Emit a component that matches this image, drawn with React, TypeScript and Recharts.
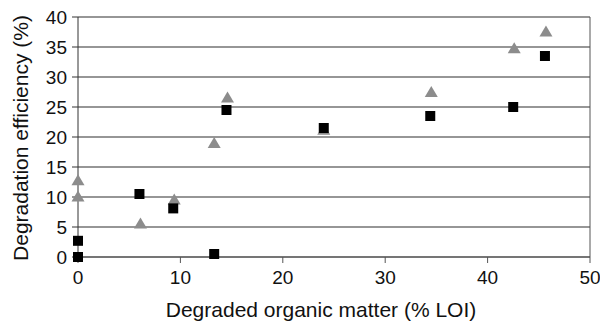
import { ScatterChart, Scatter, XAxis, YAxis, CartesianGrid, ReferenceLine, Label } from "recharts";

// black squares
const squareX = [0, 0, 6.0, 9.3, 13.3, 14.5, 24.0, 34.4, 42.5, 45.6];
const squareY = [0, 2.7, 10.5, 8.1, 0.5, 24.5, 21.5, 23.5, 25.0, 33.5];

// grey triangles
const triX = [0, 0, 6.1, 9.4, 13.3, 14.6, 24.0, 34.5, 42.6, 45.7];
const triY = [12.8, 10.1, 5.6, 9.6, 19.0, 26.6, 21.2, 27.5, 34.8, 37.6];

const xTicks = [0, 10, 20, 30, 40, 50];
const yTicks = [0, 5, 10, 15, 20, 25, 30, 35, 40];

const squares = squareX.map((x, i) => ({ x, y: squareY[i] }));
const triangles = triX.map((x, i) => ({ x, y: triY[i] }));

const FONT = '"Liberation Sans", Arial, sans-serif';

// eslint-disable-next-line @typescript-eslint/no-explicit-any
function SquareMark({ cx, cy }: any) {
  return <rect x={cx - 5} y={cy - 5} width={10} height={10} fill="#000" />;
}

// eslint-disable-next-line @typescript-eslint/no-explicit-any
function TriangleMark({ cx, cy }: any) {
  return (
    <polygon
      points={`${cx},${cy - 6} ${cx - 6.5},${cy + 5} ${cx + 6.5},${cy + 5}`}
      fill="#8c8c8c"
    />
  );
}

export default function App() {
  return (
    <div style={{ position: "fixed", left: 0, top: 0, width: 600, height: 321, background: "#fff" }}>
      <ScatterChart width={600} height={321} margin={{ top: 17, right: 10, left: 0, bottom: 0 }}>
        <CartesianGrid horizontal vertical={false} stroke="#2e2e2e" strokeOpacity={1} strokeWidth={1.2} />
        <XAxis
          type="number"
          dataKey="x"
          domain={[0, 50]}
          ticks={xTicks}
          height={64}
          tickSize={6}
          tickMargin={8}
          axisLine={{ stroke: "#555" }}
          tickLine={{ stroke: "#555" }}
          tick={{ fontSize: 19, fill: "#111", fontFamily: FONT }}
        >
          <Label
            content={() => (
              <text x={321} y={317} textAnchor="middle" fontSize={21} fill="#111" fontFamily={FONT}>
                Degraded organic matter (% LOI)
              </text>
            )}
          />
        </XAxis>
        <YAxis
          type="number"
          dataKey="y"
          domain={[0, 40]}
          ticks={yTicks}
          width={78}
          tickSize={6}
          tickMargin={5}
          axisLine={{ stroke: "#333" }}
          tickLine={{ stroke: "#333" }}
          tick={{ fontSize: 19, fill: "#111", fontFamily: FONT }}
        >
          <Label
            content={() => (
              <text
                x={20}
                y={138}
                textAnchor="middle"
                dominantBaseline="central"
                transform="rotate(-90, 20, 138)"
                fontSize={21}
                fill="#111"
                fontFamily={FONT}
              >
                Degradation efficiency (%)
              </text>
            )}
          />
        </YAxis>
        <ReferenceLine x={50} stroke="#555" />
        <Scatter data={triangles} shape={<TriangleMark />} isAnimationActive={false} />
        <Scatter data={squares} shape={<SquareMark />} isAnimationActive={false} />
      </ScatterChart>
    </div>
  );
}
